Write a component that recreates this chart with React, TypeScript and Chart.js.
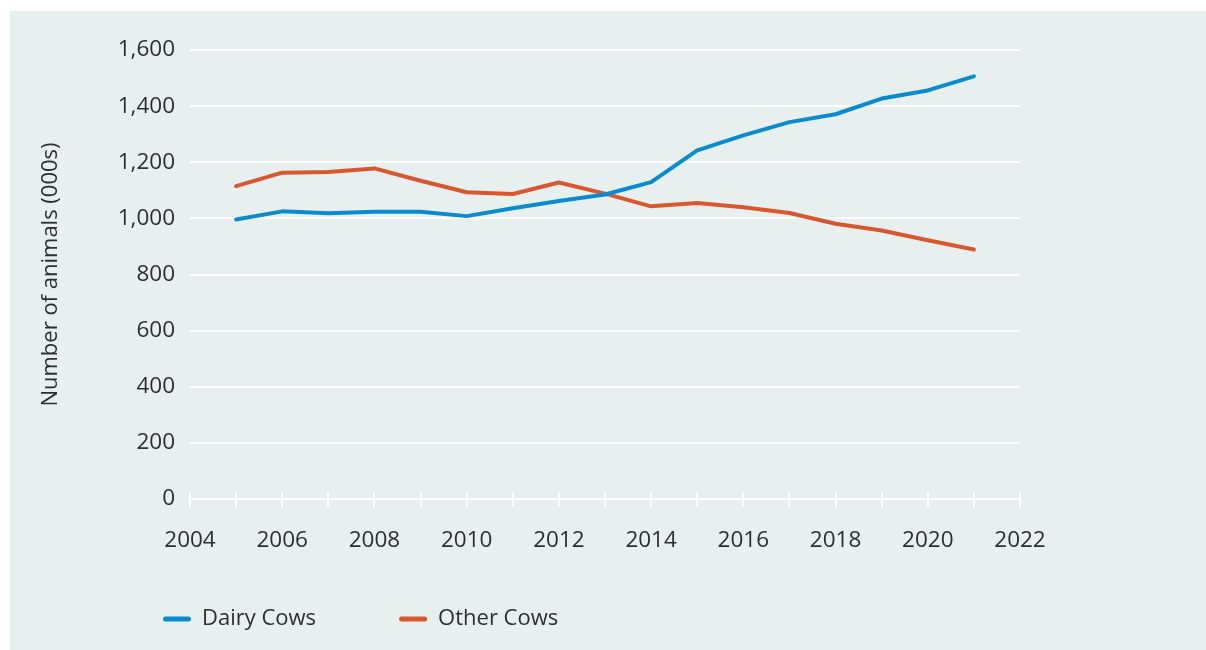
import React, { useEffect, useRef } from "react";
import { Chart, registerables } from "chart.js";

Chart.register(...registerables);

const years = [2005, 2006, 2007, 2008, 2009, 2010, 2011, 2012, 2013, 2014, 2015, 2016, 2017, 2018, 2019, 2020, 2021];
const dairyCows = [996, 1025, 1018, 1024, 1024, 1008, 1036, 1062, 1085, 1129, 1242, 1296, 1343, 1371, 1427, 1456, 1506];
const otherCows = [1115, 1163, 1165, 1178, 1134, 1093, 1087, 1128, 1088, 1043, 1055, 1040, 1019, 981, 957, 922, 889];
const xTickLabels = [2004, 2006, 2008, 2010, 2012, 2014, 2016, 2018, 2020, 2022];
const seriesNames = ["Dairy Cows", "Other Cows"];
const yAxisTitle = "Number of animals (000s)";

const BLUE = "#0a8bcf";
const ORANGE = "#d8572f";
const BG = "#e8f0ef";
const TEXT = "#2e2e2e";
const FONT = "'Open Sans', 'Noto Sans', sans-serif";

const upperTicks = {
  id: "upperTicks",
  afterDraw(chart: any) {
    const x = chart.scales.x;
    const { ctx, chartArea } = chart;
    ctx.save();
    ctx.strokeStyle = "#ffffff";
    ctx.lineWidth = 2;
    x.ticks.forEach((t: any) => {
      const px = Math.round(x.getPixelForValue(t.value));
      ctx.beginPath();
      ctx.moveTo(px, chartArea.bottom - 7);
      ctx.lineTo(px, chartArea.bottom);
      ctx.stroke();
    });
    ctx.restore();
  },
};

export default function App() {
  const ref = useRef<HTMLCanvasElement>(null);
  useEffect(() => {
    if (!ref.current) return;
    const chart = new Chart(ref.current, {
      type: "line",
      data: {
        datasets: [
          {
            label: seriesNames[0],
            data: years.map((y, i) => ({ x: y, y: dairyCows[i] })),
            borderColor: BLUE,
            backgroundColor: BLUE,
            borderWidth: 4,
            pointRadius: 0,
            borderJoinStyle: "round",
            borderCapStyle: "round",
            tension: 0,
          },
          {
            label: seriesNames[1],
            data: years.map((y, i) => ({ x: y, y: otherCows[i] })),
            borderColor: ORANGE,
            backgroundColor: ORANGE,
            borderWidth: 4,
            pointRadius: 0,
            borderJoinStyle: "round",
            borderCapStyle: "round",
            tension: 0,
          },
        ],
      },
      options: {
        responsive: false,
        animation: false,
        devicePixelRatio: 1,
        layout: { padding: { left: 70, right: 186, top: 39, bottom: 10 } },
        plugins: {
          tooltip: { enabled: false },
          legend: {
            display: true,
            position: "bottom",
            align: "start",
            labels: {
              color: TEXT,
              font: { family: FONT, size: 22 },
              boxWidth: 28,
              boxHeight: 5,
              padding: 83,
              useBorderRadius: true,
              borderRadius: 2.5,
              generateLabels: (c: any) =>
                Chart.defaults.plugins.legend.labels
                  .generateLabels(c)
                  .map((l: any) => ({ ...l, fillStyle: l.strokeStyle, lineWidth: 0 })),
            },
          },
        },
        scales: {
          x: {
            type: "linear",
            min: 2004,
            max: 2022,
            afterFit: (s: any) => {
              s.height = 26;
            },
            grid: {
              drawOnChartArea: false,
              drawTicks: true,
              tickLength: 8,
              color: "#ffffff",
              lineWidth: 2,
            },
            border: { display: true, color: "#ffffff", width: 2 },
            ticks: {
              stepSize: 1,
              autoSkip: false,
              maxRotation: 0,
              mirror: true,
              padding: -55,
              color: TEXT,
              font: { family: FONT, size: 22.5 },
              callback: (v: any) => (xTickLabels.includes(Number(v)) ? String(v) : ""),
            },
          },
          y: {
            min: 0,
            max: 1600,
            afterFit: (s: any) => {
              s.width = 110;
            },
            grid: { color: "#ffffff", lineWidth: 2, drawTicks: false },
            border: { display: false },
            ticks: {
              stepSize: 200,
              padding: 15,
              color: TEXT,
              font: { family: FONT, size: 22.5 },
              callback: (v: any) => Number(v).toLocaleString("en-US"),
            },
            title: {
              display: true,
              text: yAxisTitle,
              color: TEXT,
              font: { family: FONT, size: 22 },
              padding: { top: -42, bottom: 4 },
            },
          },
        },
      },
      plugins: [upperTicks],
    } as any);
    return () => chart.destroy();
  }, []);

  return (
    <div
      style={{
        position: "absolute",
        left: 10,
        top: 11,
        width: 1196,
        height: 639,
        background: BG,
      }}
    >
      <canvas ref={ref} width={1196} height={639} style={{ display: "block" }} />
    </div>
  );
}
